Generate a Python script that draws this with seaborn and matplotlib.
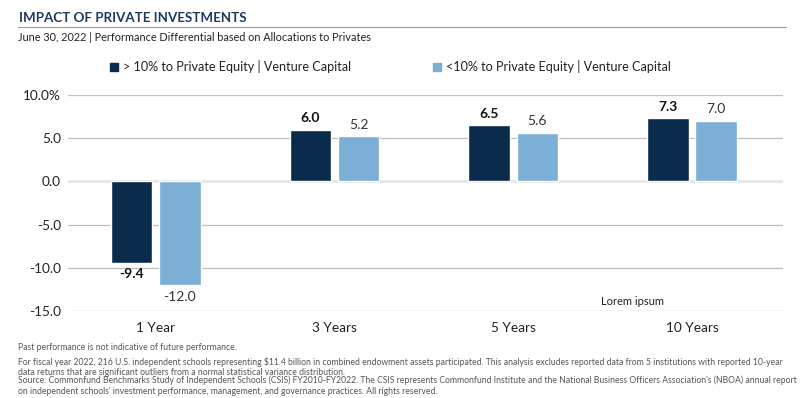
import pandas as pd
import matplotlib
matplotlib.use("Agg")
import matplotlib.pyplot as plt
import seaborn as sns

periods = ["1 Year", "3 Years", "5 Years", "10 Years"]
series_names = ["> 10% to Private Equity | Venture Capital",
                "<10% to Private Equity | Venture Capital"]
high_pe = [-9.4, 6.0, 6.5, 7.3]
low_pe = [-12.0, 5.2, 5.6, 7.0]
yticks = [10, 5, 0, -5, -10, -15]
ytick_labels = ["10.0%", "5.0", "0.0", "-5.0", "-10.0", "-15.0"]

footnotes = [
    "Past performance is not indicative of future performance.",
    "For fiscal year 2022, 216 U.S. independent schools representing $11.4 billion in combined endowment assets participated. "
    "This analysis excludes reported data from 5 institutions with reported 10-year\n"
    "data returns that are significant outliers from a normal statistical variance distribution.",
    "Source: Commonfund Benchmarks Study of Independent Schools (CSIS) FY2010-FY2022. The CSIS represents Commonfund Institute "
    "and the National Business Officers Association's (NBOA) annual report\n"
    "on independent schools' investment performance, management, and governance practices. All rights reserved.",
]

df = pd.DataFrame({
    "period": periods * 2,
    "group": [series_names[0]] * 4 + [series_names[1]] * 4,
    "value": high_pe + low_pe,
})

DARK = "#0a2b4b"
LIGHT = "#7bafd6"
TEXT = "#222222"

sns.set_style("white")
plt.rcParams["font.family"] = ["Lato", "DejaVu Sans"]

fig = plt.figure(figsize=(8, 3.98), dpi=100)
ax = fig.add_axes([0.085, 0.2186, 0.894, 0.5427])

sns.barplot(data=df, x="period", y="value", hue="group", order=periods,
            hue_order=series_names, palette=[DARK, LIGHT], width=0.54,
            gap=0.14, saturation=1, ax=ax, legend=False)

ax.set_ylim(-15, 10)
ax.set_xlim(-0.49, 3.51)
ax.set_yticks(yticks)
ax.set_yticklabels(ytick_labels)
ax.set_xlabel("")
ax.set_ylabel("")
ax.tick_params(axis="both", length=0, labelsize=9.8, colors=TEXT)
ax.tick_params(axis="y", pad=5)
ax.tick_params(axis="x", pad=8)
for s in ax.spines.values():
    s.set_visible(False)
for y in yticks:
    if y == 0:
        ax.axhline(0, color="#e6e6e6", lw=2, zorder=0)
    else:
        ax.axhline(y, color="#bdbdbd", lw=0.9, zorder=0)

for cont, weight in zip(ax.containers, ["bold", "normal"]):
    ax.bar_label(cont, fmt="%.1f", padding=4, fontsize=10, fontweight=weight,
                 color="#111111" if weight == "bold" else "#333333")

ax.text(2.665, -13.9, "Lorem ipsum", ha="center", va="center", fontsize=8, color=TEXT)

# legend
handles = [plt.Rectangle((0, 0), 1, 1, color=c) for c in (DARK, LIGHT)]
fig.legend(handles, series_names, loc="center", bbox_to_anchor=(0.488, 0.832), ncol=2,
           frameon=False, fontsize=9.1, handlelength=0.6, handleheight=0.6,
           handletextpad=0.4, columnspacing=6.5, labelcolor=TEXT)

# header
fig.text(0.024, 0.955, "IMPACT OF PRIVATE INVESTMENTS", fontsize=9.6, fontweight="bold",
         color="#1c3a5c", va="center")
fig.add_artist(plt.Line2D([0.022, 0.982], [0.933, 0.933], color="#9a9a9a", lw=0.8))
fig.text(0.022, 0.905, "June 30, 2022 | Performance Differential based on Allocations to Privates",
         fontsize=7.8, color=TEXT, va="center")

# footnotes
fy = [0.137, 0.104, 0.056]
for y, t in zip(fy, footnotes):
    fig.text(0.022, y, t, fontsize=6.2, color="#555555", va="top", linespacing=1.18)

fig.savefig("out.png", dpi=100)
